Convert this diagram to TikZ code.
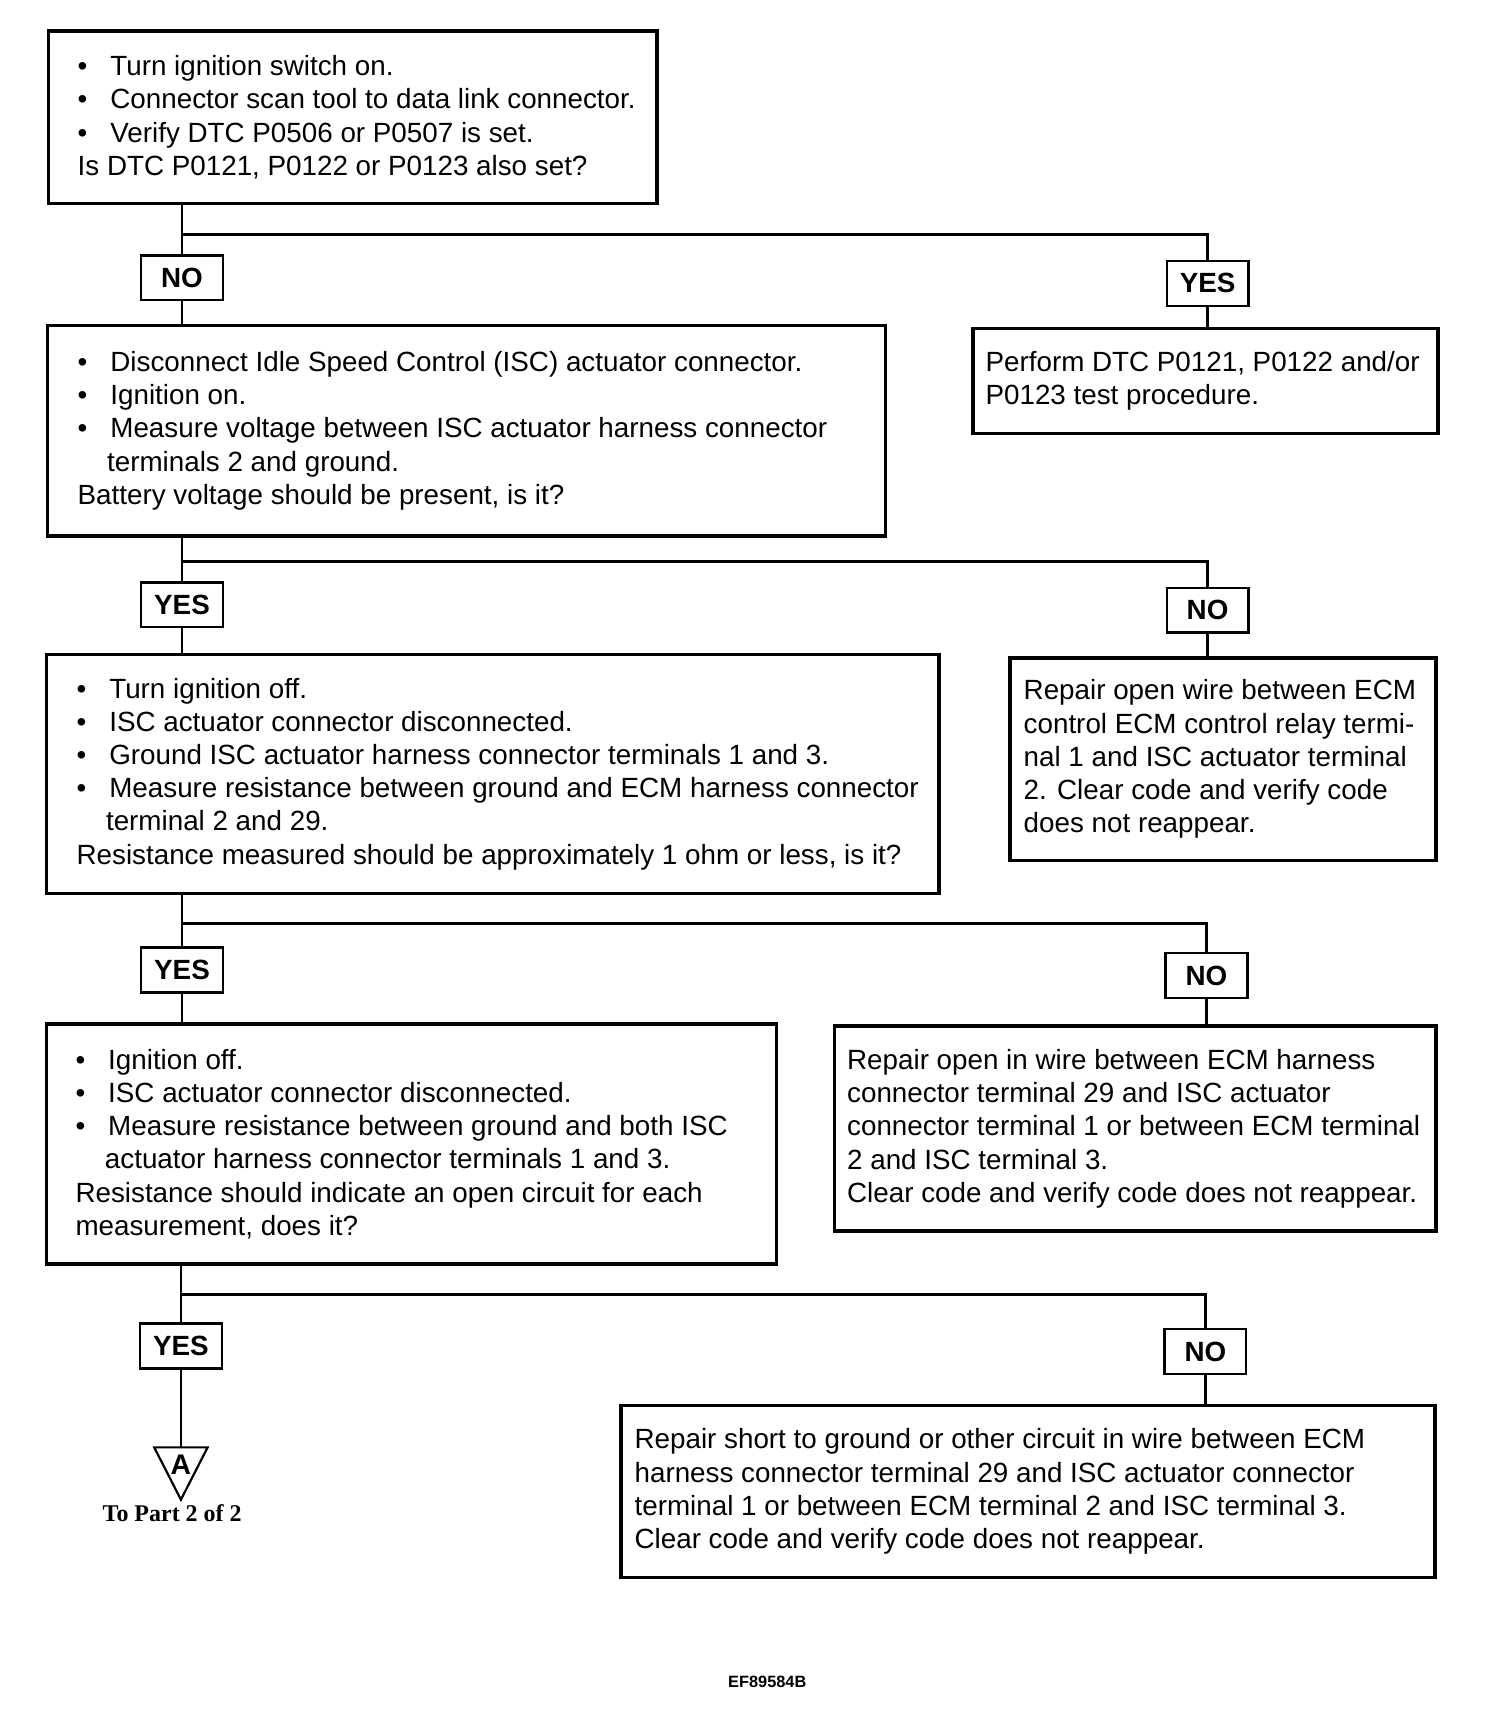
\documentclass[tikz,border=0pt]{standalone}
\usepackage{fontspec}
\setmainfont{Liberation Sans}
\newfontfamily\partfont{Liberation Serif}
\usetikzlibrary{positioning}
\newcommand{\bitem}{\makebox[15pt][l]{\textbullet}}
\newcommand{\bcont}{\hspace*{13.5pt}}

\begin{document}
\begin{tikzpicture}[x=0.5pt, y=-0.5pt,
			line width=1.3pt,
			box/.style={draw, line width=1.6pt, inner sep=0pt, anchor=north west},
			answer/.style={draw, line width=1.1pt, inner sep=0pt, minimum width=37.5pt, minimum height=20.5pt, font=\fontsize{12.75}{15}\selectfont\bfseries},
			txt/.style={align=left, inner sep=0pt, font=\fontsize{12.75}{15.25}\selectfont}]

			\useasboundingbox (0,0) rectangle (1380,1569);

			\node[box, minimum width=279pt, minimum height=79pt] (start) at (43,27) {};
			\node[txt, right=13.5pt of start.west] {\bitem Turn ignition switch on.\\
				\bitem Connector scan tool to data link connector.\\
				\bitem Verify DTC P0506 or P0507 is set.\\
				Is DTC P0121, P0122 or P0123 also set?};

			\node[box, minimum width=384.5pt, minimum height=96.5pt] (iscvolt) at (42,297) {};
			\node[txt, right=14pt of iscvolt.west] {\bitem Disconnect Idle Speed Control (ISC) actuator connector.\\
				\bitem Ignition on.\\
				\bitem Measure voltage between ISC actuator harness connector\\
				\bcont terminals 2 and ground.\\
				Battery voltage should be present, is it?};

			\node[box, minimum width=213.5pt, minimum height=48pt] (perform) at (891,300) {};
			\node[txt, right=6pt of perform.west] {Perform DTC P0121, P0122 and/or\\
				P0123 test procedure.};

			\node[box, minimum width=409.5pt, minimum height=109.5pt] (iscres) at (41,599) {};
			\node[txt, right=14pt of iscres.west] {\bitem Turn ignition off.\\
				\bitem ISC actuator connector disconnected.\\
				\bitem Ground ISC actuator harness connector terminals 1 and 3.\\
				\bitem Measure resistance between ground and ECM harness connector\\
				\bcont terminal 2 and 29.\\
				Resistance measured should be approximately 1 ohm or less, is it?};

			\node[box, minimum width=195.5pt, minimum height=93pt] (relay) at (925,602) {};
			\node[txt, right=6.5pt of relay.west] {Repair open wire between ECM\\
				control ECM control relay termi-\\
				nal 1 and ISC actuator terminal\\
				2. Clear code and verify code\\
				does not reappear.};

			\node[box, minimum width=335pt, minimum height=110pt] (iscopen) at (41,938) {};
			\node[txt, right=13.5pt of iscopen.west] {\bitem Ignition off.\\
				\bitem ISC actuator connector disconnected.\\
				\bitem Measure resistance between ground and both ISC\\
				\bcont actuator harness connector terminals 1 and 3.\\
				Resistance should indicate an open circuit for each\\
				measurement, does it?};

			\node[box, minimum width=276pt, minimum height=94pt] (openwire) at (764,940) {};
			\node[txt, right=6pt of openwire.west] {Repair open in wire between ECM harness\\
				connector terminal 29 and ISC actuator\\
				connector terminal 1 or between ECM terminal\\
				2 and ISC terminal 3.\\
				Clear code and verify code does not reappear.};

			\node[box, minimum width=373.5pt, minimum height=79pt] (shortwire) at (568,1288) {};
			\node[txt, right=6.5pt of shortwire.west] {Repair short to ground or other circuit in wire between ECM\\
				harness connector terminal 29 and ISC actuator connector\\
				terminal 1 or between ECM terminal 2 and ISC terminal 3.\\
				Clear code and verify code does not reappear.};

			\node[answer] (no1) at (167,255) {NO};
			\node[answer] (yes1) at (1108,260) {YES};
			\node[answer] (yes2) at (167,555) {YES};
			\node[answer] (no2) at (1108,560) {NO};
			\node[answer] (yes3) at (167,890) {YES};
			\node[answer] (no3) at (1107,895) {NO};
			\node[answer] (yes4) at (166,1235) {YES};
			\node[answer] (no4) at (1106,1240) {NO};

			\coordinate (split1) at (167,215);
			\coordinate (split2) at (167,515);
			\coordinate (split3) at (167,847);
			\coordinate (split4) at (166,1188);

			\draw (start.south -| no1) -- (no1.north);
			\draw (split1) -| (yes1.north);
			\draw (no1.south) -- (no1.south |- iscvolt.north);
			\draw (yes1.south) -- (yes1.south |- perform.north);

			\draw (iscvolt.south -| yes2) -- (yes2.north);
			\draw (split2) -| (no2.north);
			\draw (yes2.south) -- (yes2.south |- iscres.north);
			\draw (no2.south) -- (no2.south |- relay.north);

			\draw (iscres.south -| yes3) -- (yes3.north);
			\draw (split3) -| (no3.north);
			\draw (yes3.south) -- (yes3.south |- iscopen.north);
			\draw (no3.south) -- (no3.south |- openwire.north);

			\draw (iscopen.south -| yes4) -- (yes4.north);
			\draw (split4) -| (no4.north);
			\draw (no4.south) -- (no4.south |- shortwire.north);

			\coordinate (tri) at (166,1328);
			\draw (yes4.south) -- (tri);
			\draw[line width=1pt] (tri) ++(-24.5,0) -- ++(49,0) -- (166,1376) -- cycle;
			\node[inner sep=0pt, font=\fontsize{13}{15}\selectfont\bfseries] (partA) at (166,1344) {A};
			\node[inner sep=0pt, font={\partfont\bfseries\fontsize{11}{13}\selectfont}] (topart) at (158,1388) {To Part 2 of 2};

			\node[inner sep=0pt, font=\fontsize{7.5}{9}\selectfont\bfseries] (figid) at (704,1543) {EF89584B};
		\end{tikzpicture}
\end{document}
